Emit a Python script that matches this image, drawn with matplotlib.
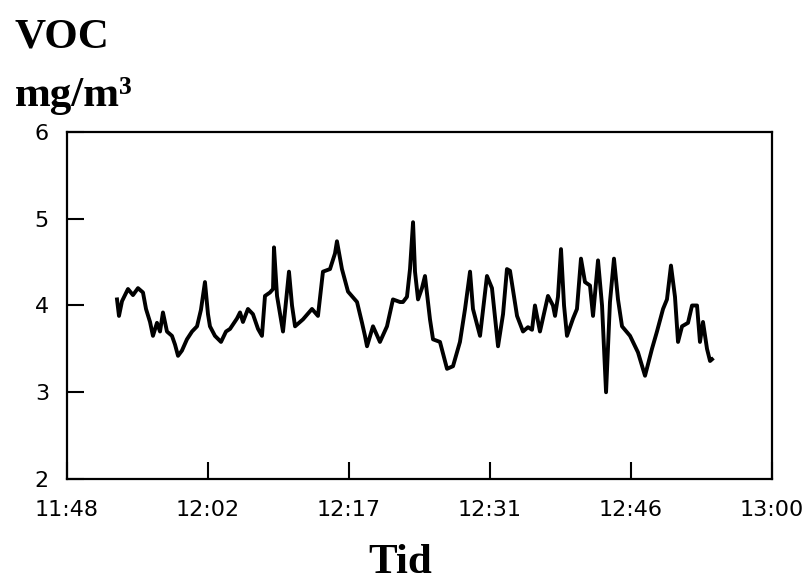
import numpy as np
import matplotlib.pyplot as plt

# minutes after 11:48 and VOC concentration (mg/m3)
minutes = [5.11, 5.31, 5.62, 6.23, 6.74, 7.25, 7.76, 8.07, 8.48, 8.78,
           9.19, 9.50, 9.80, 10.21, 10.72, 11.03, 11.34, 11.74, 12.25, 12.77,
           13.28, 13.68, 14.09, 14.40, 14.60, 15.11, 15.73, 16.24, 16.65, 17.36,
           17.67, 17.97, 18.48, 18.99, 19.51, 19.91, 20.22, 20.73, 21.04, 21.14,
           21.45, 22.06, 22.67, 22.98, 23.29, 24.10, 25.02, 25.63, 26.14, 26.86,
           27.37, 27.57, 28.08, 28.70, 29.62, 30.13, 30.43, 30.64, 31.25, 31.96,
           32.68, 33.29, 34.01, 34.31, 34.72, 35.03, 35.34, 35.54, 35.85, 36.25,
           36.56, 37.07, 37.38, 38.09, 38.81, 39.42, 40.13, 40.65, 41.16, 41.46,
           42.18, 42.89, 43.40, 44.02, 44.53, 44.93, 45.24, 45.96, 46.57, 47.08,
           47.49, 47.79, 48.30, 48.82, 49.12, 49.63, 49.84, 50.14, 50.45, 50.76,
           51.06, 51.68, 52.08, 52.49, 52.90, 53.41, 53.72, 54.23, 54.64, 55.05,
           55.45, 55.86, 56.27, 56.68, 57.50, 58.31, 59.03, 59.74, 60.25, 60.87,
           61.27, 61.68, 62.09, 62.40, 62.81, 63.42, 63.83, 64.34, 64.64, 64.95,
           65.36, 65.67, 65.87]
voc = [4.07, 3.88, 4.05, 4.19, 4.12, 4.20, 4.15, 3.96, 3.81, 3.65,
       3.80, 3.70, 3.92, 3.70, 3.65, 3.55, 3.42, 3.48, 3.61, 3.70,
       3.76, 3.95, 4.27, 3.90, 3.76, 3.65, 3.58, 3.70, 3.73, 3.85,
       3.92, 3.81, 3.96, 3.90, 3.73, 3.65, 4.11, 4.15, 4.19, 4.67,
       4.11, 3.70, 4.39, 4.00, 3.76, 3.84, 3.96, 3.88, 4.39, 4.42,
       4.60, 4.74, 4.42, 4.16, 4.04, 3.80, 3.65, 3.53, 3.76, 3.58,
       3.76, 4.07, 4.04, 4.04, 4.10, 4.42, 4.96, 4.39, 4.07, 4.20,
       4.34, 3.84, 3.61, 3.58, 3.27, 3.30, 3.58, 3.96, 4.39, 3.96,
       3.65, 4.34, 4.20, 3.53, 3.90, 4.42, 4.40, 3.88, 3.70, 3.75,
       3.72, 4.00, 3.70, 3.96, 4.11, 4.00, 3.88, 4.10, 4.65, 4.00,
       3.65, 3.85, 3.96, 4.54, 4.27, 4.23, 3.88, 4.52, 4.00, 3.00,
       4.04, 4.54, 4.07, 3.76, 3.65, 3.46, 3.19, 3.50, 3.70, 3.96,
       4.07, 4.46, 4.10, 3.58, 3.76, 3.80, 4.00, 4.00, 3.58, 3.81,
       3.50, 3.36, 3.38]

tick_minutes = [0, 14.4, 28.8, 43.2, 57.6, 72]
tick_labels = ["11:48", "12:02", "12:17", "12:31", "12:46", "13:00"]
y_ticks = [2, 3, 4, 5, 6]

fig = plt.figure(figsize=(8.09, 5.83), dpi=100)
ax = fig.add_axes([0.0828, 0.1784, 0.8715, 0.5952])

ax.plot(minutes, voc, color="black", lw=2.8)

ax.set_xlim(0, 72)
ax.set_ylim(2, 6)
ax.set_xticks(tick_minutes)
ax.set_xticklabels(tick_labels)
ax.set_yticks(y_ticks)
ax.tick_params(direction="in", length=12, width=1.5, labelsize=16, color="black")
ax.tick_params(axis="x", pad=15)
ax.tick_params(axis="y", pad=13)
for s in ax.spines.values():
    s.set_linewidth(1.6)

serif = dict(family="Liberation Serif", fontweight="bold", fontsize=31)
fig.text(15 / 809, 1 - 48 / 583, "VOC", va="baseline", ha="left", **serif)
fig.text(15 / 809, 1 - 106 / 583, "mg/m³", va="baseline", ha="left", **serif)
fig.text(400 / 809, 1 - 573 / 583, "Tid", va="baseline", ha="center", **serif)

fig.savefig("out.png", dpi=100)
